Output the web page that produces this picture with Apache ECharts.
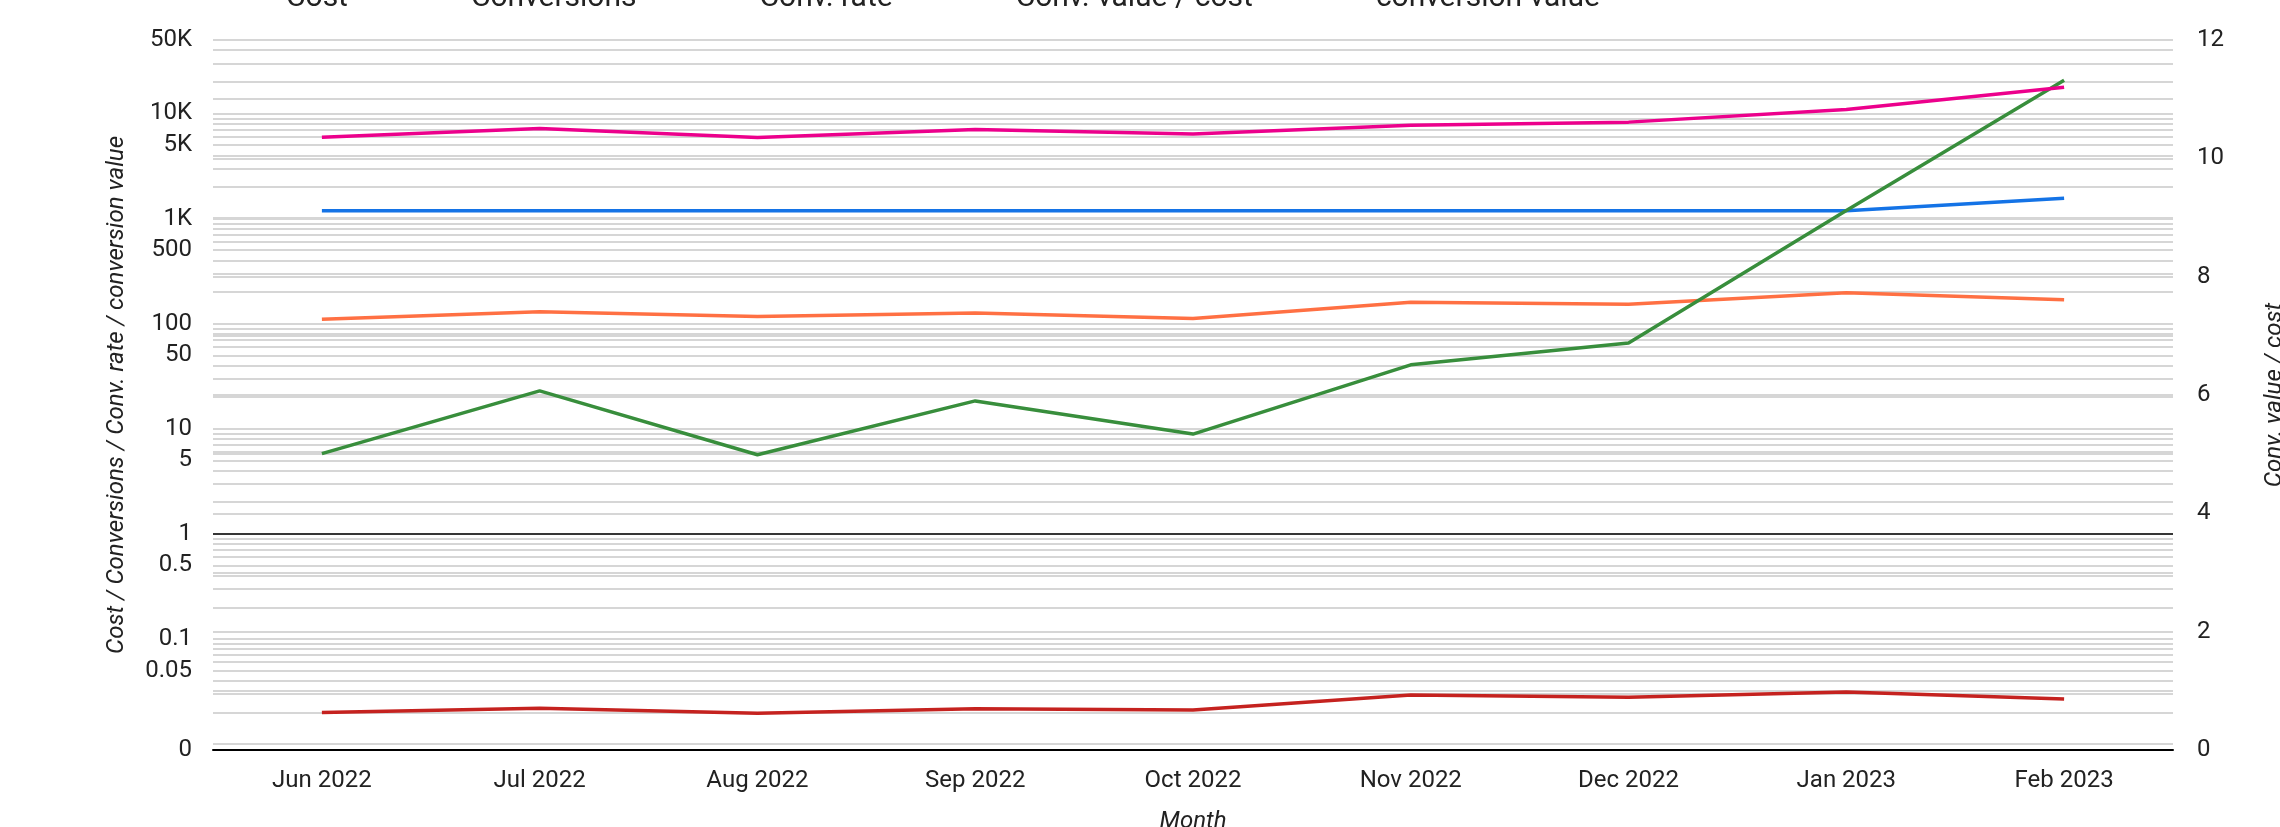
<!DOCTYPE html>
<html>
<head>
<meta charset="utf-8">
<title>Monthly performance</title>
<script src="https://cdn.jsdelivr.net/npm/echarts@6/dist/echarts.min.js"></script>
<style>
    html, body { margin: 0; padding: 0; background: #fff; }
    #chart { width: 2280px; height: 827px; }
</style>
</head>
<body>
<div id="chart"></div>
<script>
let perfChart;

const months = ['Jun 2022', 'Jul 2022', 'Aug 2022', 'Sep 2022', 'Oct 2022', 'Nov 2022', 'Dec 2022', 'Jan 2023', 'Feb 2023'];
const costValues = [1185, 1185, 1185, 1185, 1185, 1185, 1185, 1185, 1560];
const conversionsValues = [110, 130, 117, 126, 112, 160, 153, 197, 169];
const convRateValues = [0.0199, 0.0219, 0.0196, 0.0216, 0.0211, 0.0293, 0.0279, 0.0313, 0.0268];
const valuePerCostValues = [5.01, 6.07, 4.99, 5.90, 5.34, 6.51, 6.88, 9.12, 11.32];
const conversionValueValues = [5950, 7200, 5910, 7050, 6380, 7740, 8270, 10900, 17800];

// 왼쪽 로그 축: 눈금 라벨 / 보조 격자
const LOG_MIN = 0.00877;
const LOG_MAX = 50000;
const logLabelValues = [LOG_MIN, 0.05, 0.1, 0.5, 1, 5, 10, 50, 100, 500, 1000, 5000, 10000, 50000];
const logGridSteps = [1, 2, 3, 4, 5, 6, 7, 8, 9];
const logGridDecades = [0.01, 0.1, 1, 10, 100, 1000, 10000];
// 오른쪽 축 눈금
const rightTickValues = [0, 2, 4, 6, 8, 10, 12];

const FONT = 'Roboto';
const GRID_LINE = { color: '#d6d6d6', width: 2 };

/**
 * 로그 축 격자 값 목록
 */
function logGridValues() {
    const out = [];
    logGridDecades.forEach(d => {
        logGridSteps.forEach(s => {
            const v = +(d * s).toPrecision(3);
            if (v >= LOG_MIN && v <= LOG_MAX) out.push(v);
        });
    });
    return out;
}

function formatLog(value) {
    if (value < 0.01) return '0';
    if (value >= 1000) return (value / 1000) + 'K';
    return String(value);
}

function lineSeries(name, data, color, axis) {
    return {
        name: name,
        type: 'line',
        yAxisIndex: axis,
        data: data,
        showSymbol: false,
        symbol: 'none',
        lineStyle: { color: color, width: 3.5 },
        itemStyle: { color: color }
    };
}

/**
 * 차트 초기화
 */
function initChart() {
    perfChart = echarts.init(document.getElementById('chart'));

    const costSeries = lineSeries('Cost', costValues, '#1473e6', 0);
    // 값 1 위치의 검은 기준선
    costSeries.markLine = {
        silent: true,
        symbol: 'none',
        label: { show: false },
        lineStyle: { color: '#000', width: 1.5, type: 'solid' },
        data: [{ yAxis: 1 }]
    };

    const option = {
        animation: false,
        textStyle: { fontFamily: FONT },
        legend: {
            left: 256,
            top: -17,
            padding: 0,
            icon: 'rect',
            itemWidth: 25,
            itemHeight: 4,
            itemGap: 93,
            selectedMode: false,
            textStyle: { fontSize: 30, color: '#222', fontFamily: FONT }
        },
        grid: {
            left: 213,
            right: 107,
            top: 40,
            bottom: 77,
            containLabel: false,
            outerBoundsMode: 'none'
        },
        xAxis: {
            type: 'category',
            data: months,
            name: 'Month',
            nameLocation: 'middle',
            nameGap: 60,
            nameTextStyle: { fontSize: 24, fontStyle: 'italic', color: '#222', fontFamily: FONT },
            axisLine: { onZero: false, lineStyle: { color: '#000', width: 2 } },
            axisTick: { show: false },
            axisLabel: { fontSize: 24, color: '#222', margin: 19, fontFamily: FONT },
            splitLine: { show: false }
        },
        yAxis: [{
            type: 'log',
            logBase: 10,
            min: LOG_MIN,
            max: LOG_MAX,
            name: 'Cost / Conversions / Conv. rate / conversion value',
            nameLocation: 'middle',
            nameRotate: 90,
            nameGap: 84,
            nameTextStyle: { fontSize: 24, fontStyle: 'italic', color: '#222', fontFamily: FONT },
            axisLine: { show: false },
            axisTick: { show: false, customValues: logGridValues() },
            axisLabel: {
                customValues: logLabelValues,
                formatter: formatLog,
                fontSize: 24,
                color: '#222',
                margin: 21,
                fontFamily: FONT
            },
            splitLine: { show: true, lineStyle: GRID_LINE }
        }, {
            type: 'value',
            min: 0,
            max: 12,
            interval: 1,
            name: 'Conv. value / cost',
            nameLocation: 'middle',
            nameRotate: 90,
            nameGap: 90,
            nameTextStyle: { fontSize: 24, fontStyle: 'italic', color: '#222', fontFamily: FONT },
            axisLine: { show: false },
            axisTick: { show: false },
            axisLabel: {
                formatter: v => (rightTickValues.indexOf(v) >= 0 ? String(v) : ''),
                fontSize: 24,
                color: '#222',
                margin: 24,
                fontFamily: FONT
            },
            splitLine: { show: true, lineStyle: GRID_LINE }
        }],
        series: [
            costSeries,
            lineSeries('Conversions', conversionsValues, '#ff7043', 0),
            lineSeries('Conv. rate', convRateValues, '#c5221f', 0),
            lineSeries('Conv. value / cost', valuePerCostValues, '#388e3c', 1),
            lineSeries('conversion value', conversionValueValues, '#ec008c', 0)
        ]
    };
    perfChart.setOption(option);
}

document.addEventListener('DOMContentLoaded', function () {
    initChart();
    window.addEventListener('resize', function () {
        perfChart.resize();
    });
});
</script>
</body>
</html>
